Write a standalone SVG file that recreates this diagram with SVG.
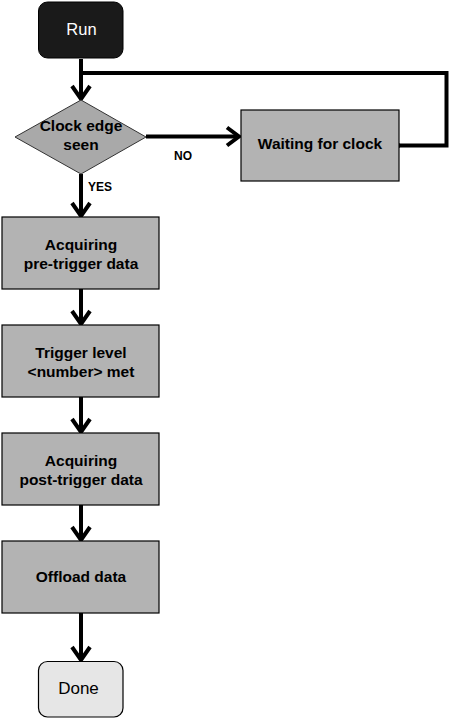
<svg xmlns="http://www.w3.org/2000/svg" width="451" height="720" viewBox="0 0 451 720">
<style>
.box{fill:#b3b3b3;stroke:#000;stroke-width:1.2}
.t{font-family:"Liberation Sans",Arial,sans-serif;font-weight:bold;font-size:15.5px;fill:#000;text-anchor:middle}
.lbl{font-family:"Liberation Sans",Arial,sans-serif;font-weight:bold;font-size:12px;fill:#000}
.c{fill:none;stroke:#000;stroke-width:4;stroke-linejoin:miter}
.ah{fill:none;stroke:#000;stroke-width:4;stroke-linecap:butt;stroke-linejoin:miter}
</style>
<rect width="451" height="720" fill="#fff"/>
<g id="connectors">
<path class="c" d="M81,59 V99"/>
<path class="ah" d="M72,86 L81,99 L90,86"/>
<path class="c" d="M81,73 H446.5 V145.5 H398"/>
<circle cx="398" cy="145.5" r="2.5" fill="#000"/>
<path class="c" d="M146,136.5 H239"/>
<path class="ah" d="M227,127.5 L239,136.5 L227,145.5"/>
<path class="c" d="M81,174 V216"/>
<path class="ah" d="M72,203 L81,216 L90,203"/>
<path class="c" d="M81,289 V324"/>
<path class="ah" d="M72,311 L81,324 L90,311"/>
<path class="c" d="M81,397 V432"/>
<path class="ah" d="M72,419 L81,432 L90,419"/>
<path class="c" d="M81,505 V540"/>
<path class="ah" d="M72,527 L81,540 L90,527"/>
<path class="c" d="M81,613 V660"/>
<path class="ah" d="M72,647 L81,660 L90,647"/>
<text class="lbl" x="174" y="160">NO</text>
<text class="lbl" x="88" y="191">YES</text>
</g>
<g id="run">
<rect x="38.5" y="2" width="84.5" height="56" rx="9" fill="#1a1a1a" stroke="#000"/>
<text class="t" x="81.5" y="34.5" style="fill:#fff;font-weight:normal;font-size:16.5px">Run</text>
</g>
<g id="clock-edge">
<path d="M81,100 L146,137 L81,174 L15,137 Z" fill="#a9a9a9" stroke="#333" stroke-width="1" stroke-linejoin="round"/>
<text class="t" x="81" y="131">Clock edge</text>
<text class="t" x="81" y="150">seen</text>
</g>
<g id="waiting">
<rect class="box" x="241" y="110" width="158" height="71"/>
<text class="t" x="320" y="149">Waiting for clock</text>
</g>
<g id="pre-trigger">
<rect class="box" x="2" y="217" width="157" height="72"/>
<text class="t" x="81" y="250">Acquiring</text>
<text class="t" x="81" y="269">pre-trigger data</text>
</g>
<g id="trigger-level">
<rect class="box" x="2" y="325" width="157" height="72"/>
<text class="t" x="81" y="358">Trigger level</text>
<text class="t" x="81" y="377">&lt;number&gt; met</text>
</g>
<g id="post-trigger">
<rect class="box" x="2" y="433" width="157" height="72"/>
<text class="t" x="81" y="466">Acquiring</text>
<text class="t" x="81" y="485">post-trigger data</text>
</g>
<g id="offload">
<rect class="box" x="2" y="541" width="157" height="72"/>
<text class="t" x="81" y="582">Offload data</text>
</g>
<g id="done">
<rect x="38.5" y="661.5" width="84.5" height="55.5" rx="9" fill="#e6e6e6" stroke="#000" stroke-width="1.2"/>
<text class="t" x="78.5" y="694" style="font-weight:normal;font-size:17px">Done</text>
</g>
</svg>
